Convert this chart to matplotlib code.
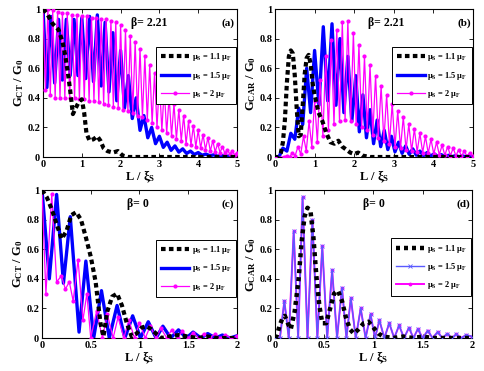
import numpy as np
import matplotlib
matplotlib.use("Agg")
import matplotlib.pyplot as plt

plt.rcParams.update({
    "font.family": "Liberation Serif",
    "font.weight": "bold",
    "axes.labelweight": "bold",
    "mathtext.fontset": "custom",
    "mathtext.rm": "Liberation Serif:bold",
    "mathtext.it": "Liberation Serif:italic:bold",
    "mathtext.bf": "Liberation Serif:bold",
    "xtick.direction": "in",
    "ytick.direction": "in",
    "xtick.top": True,
    "ytick.right": True,
    "xtick.labelsize": 7.5,
    "ytick.labelsize": 7.5,
})

# ---------------------------------------------------------------------------
# Data (L / xi_S, G / G_0)
# ---------------------------------------------------------------------------

# (a) G_CT, beta = 2.21
a_black_L = [0, 0.1, 0.25, 0.4, 0.5, 0.57, 0.64, 0.7, 0.77, 0.84, 0.92, 1.0, 1.06,
             1.12, 1.2, 1.3, 1.4, 1.48, 1.56, 1.66, 1.8, 1.93, 2.05, 2.2, 5.0]
a_black_G = [1.0, 0.97, 0.9, 0.86, 0.78, 0.69, 0.57, 0.45, 0.29, 0.33, 0.37, 0.39, 0.3,
             0.16, 0.11, 0.12, 0.14, 0.11, 0.06, 0.04, 0.03, 0.04, 0.01, 0.0, 0.0]

a_blue_peak_L = [0, 0.2, 0.4, 0.6, 0.8, 1.0, 1.2, 1.4, 1.6, 1.8, 2.0, 2.2, 2.4, 2.6,
                 2.8, 3.0, 3.2, 3.4, 3.6, 3.8, 4.0, 4.2, 4.4, 4.6, 4.8, 5.0]
a_blue_peak_G = [1.0, 0.95, 0.93, 0.93, 0.93, 0.94, 0.95, 0.96, 0.91, 0.84, 0.72, 0.55,
                 0.4, 0.28, 0.2, 0.14, 0.1, 0.075, 0.055, 0.04, 0.03, 0.02, 0.015,
                 0.01, 0.007, 0.005]
a_blue_trough_L = [0.1, 0.3, 0.5, 0.7, 0.9, 1.1, 1.3, 1.5, 1.7, 1.9, 2.1, 2.3, 2.5,
                   2.7, 2.9, 3.1, 3.3, 3.5, 3.7, 3.9, 4.1, 4.3, 4.5, 4.7, 4.9]
a_blue_trough_G = [0.47, 0.5, 0.52, 0.55, 0.55, 0.53, 0.51, 0.48, 0.44, 0.38, 0.33,
                   0.26, 0.18, 0.13, 0.09, 0.065, 0.045, 0.033, 0.024, 0.017, 0.012,
                   0.008, 0.005, 0.003, 0.002]

a_mag_peak_L = [0, 0.125, 0.25, 0.375, 0.5, 0.625, 0.75, 0.875, 1.0, 1.125, 1.25,
                1.375, 1.5, 1.625, 1.75, 1.875, 2.0, 2.125, 2.25, 2.375, 2.5, 2.625,
                2.75, 2.875, 3.0, 3.125, 3.25, 3.375, 3.5, 3.625, 3.75, 3.875, 4.0,
                4.125, 4.25, 4.375, 4.5, 4.625, 4.75, 4.875, 5.0]
a_mag_peak_G = [1.0, 1.0, 0.99, 0.98, 0.97, 0.97, 0.96, 0.96, 0.95, 0.95, 0.94, 0.94,
                0.93, 0.93, 0.92, 0.91, 0.89, 0.86, 0.82, 0.78, 0.73, 0.68, 0.62, 0.57,
                0.51, 0.46, 0.41, 0.36, 0.32, 0.28, 0.24, 0.21, 0.18, 0.15, 0.13, 0.11,
                0.09, 0.07, 0.05, 0.04, 0.03]
a_mag_trough_L = [0.0625, 0.1875, 0.3125, 0.4375, 0.5625, 0.6875, 0.8125, 0.9375,
                  1.0625, 1.1875, 1.3125, 1.4375, 1.5625, 1.6875, 1.8125, 1.9375,
                  2.0625, 2.1875, 2.3125, 2.4375, 2.5625, 2.6875, 2.8125, 2.9375,
                  3.0625, 3.1875, 3.3125, 3.4375, 3.5625, 3.6875, 3.8125, 3.9375,
                  4.0625, 4.1875, 4.3125, 4.4375, 4.5625, 4.6875, 4.8125, 4.9375]
a_mag_trough_G = [0.45, 0.42, 0.4, 0.4, 0.4, 0.4, 0.4, 0.39, 0.39, 0.38, 0.38, 0.37,
                  0.36, 0.35, 0.34, 0.33, 0.32, 0.31, 0.3, 0.28, 0.27, 0.25, 0.23, 0.2,
                  0.18, 0.16, 0.14, 0.12, 0.11, 0.09, 0.08, 0.07, 0.06, 0.05, 0.04,
                  0.035, 0.03, 0.025, 0.02, 0.015]

# (b) G_CAR, beta = 2.21
b_black_L = [0, 0.1, 0.15, 0.2, 0.25, 0.3, 0.35, 0.4, 0.45, 0.5, 0.55, 0.6, 0.65, 0.7,
             0.75, 0.8, 0.85, 0.9, 0.95, 1.0, 1.1, 1.2, 1.3, 1.4, 1.5, 1.6, 1.7, 1.8,
             1.9, 2.0, 2.1, 2.2, 2.4, 5.0]
b_black_G = [0, 0.0, 0.03, 0.1, 0.25, 0.5, 0.68, 0.72, 0.7, 0.55, 0.32, 0.14, 0.15,
             0.35, 0.56, 0.67, 0.69, 0.63, 0.5, 0.42, 0.3, 0.24, 0.16, 0.1, 0.09, 0.11,
             0.07, 0.05, 0.03, 0.02, 0.03, 0.01, 0.0, 0.0]

b_blue_peak_L = [0.2, 0.4, 0.6, 0.8, 1.0, 1.22, 1.44, 1.64, 1.84, 2.04, 2.22, 2.4,
                 2.58, 2.76, 2.94, 3.12, 3.3, 3.48, 3.66, 3.84, 4.02, 4.2, 4.38, 4.56,
                 4.74, 4.92]
b_blue_peak_G = [0.06, 0.16, 0.33, 0.6, 0.72, 0.88, 0.9, 0.8, 0.68, 0.55, 0.42, 0.32,
                 0.25, 0.18, 0.14, 0.1, 0.075, 0.055, 0.04, 0.03, 0.022, 0.016, 0.012,
                 0.009, 0.007, 0.005]
b_blue_trough_L = [0, 0.1, 0.3, 0.5, 0.7, 0.9, 1.11, 1.33, 1.54, 1.74, 1.94, 2.13,
                   2.31, 2.49, 2.67, 2.85, 3.03, 3.21, 3.39, 3.57, 3.75, 3.93, 4.11,
                   4.29, 4.47, 4.65, 4.83, 5.0]
b_blue_trough_G = [0.0, 0.0, 0.04, 0.12, 0.22, 0.3, 0.35, 0.38, 0.35, 0.3, 0.24, 0.17,
                   0.13, 0.09, 0.07, 0.05, 0.035, 0.025, 0.018, 0.012, 0.009, 0.006,
                   0.004, 0.003, 0.002, 0.002, 0.001, 0.001]

b_mag_peak_L = [0.3, 0.44, 0.58, 0.72, 0.86, 1.0, 1.14, 1.28, 1.42, 1.56, 1.7, 1.84,
                1.98, 2.12, 2.26, 2.4, 2.54, 2.68, 2.82, 2.96, 3.1, 3.24, 3.38, 3.52,
                3.66, 3.8, 3.94, 4.08, 4.22, 4.36, 4.5, 4.64, 4.78, 4.92]
b_mag_peak_G = [0.01, 0.03, 0.07, 0.14, 0.24, 0.38, 0.52, 0.68, 0.79, 0.86, 0.91,
                0.92, 0.84, 0.76, 0.68, 0.62, 0.55, 0.48, 0.42, 0.36, 0.31, 0.27, 0.22,
                0.19, 0.16, 0.14, 0.12, 0.1, 0.08, 0.07, 0.06, 0.05, 0.04, 0.03]
b_mag_trough_L = [0, 0.23, 0.37, 0.51, 0.65, 0.79, 0.93, 1.07, 1.21, 1.35, 1.49, 1.63,
                  1.77, 1.91, 2.05, 2.19, 2.33, 2.47, 2.61, 2.75, 2.89, 3.03, 3.17,
                  3.31, 3.45, 3.59, 3.73, 3.87, 4.01, 4.15, 4.29, 4.43, 4.57, 4.71,
                  4.85, 5.0]
b_mag_trough_G = [0.0, 0.0, 0.0, 0.01, 0.02, 0.04, 0.07, 0.1, 0.14, 0.18, 0.22, 0.24,
                  0.25, 0.24, 0.22, 0.2, 0.18, 0.15, 0.13, 0.11, 0.09, 0.07, 0.06,
                  0.05, 0.04, 0.035, 0.03, 0.025, 0.02, 0.015, 0.012, 0.01, 0.008,
                  0.006, 0.005, 0.004]

# (c) G_CT, beta = 0
c_black_L = [0, 0.05, 0.1, 0.15, 0.2, 0.25, 0.3, 0.35, 0.4, 0.45, 0.5, 0.55, 0.6,
             0.63, 0.67, 0.72, 0.77, 0.82, 0.87, 0.92, 0.97, 1.02, 1.07, 1.12, 1.17,
             1.22, 1.3, 1.4, 1.5, 1.6, 1.7, 1.8, 2.0]
c_black_G = [1.0, 0.95, 0.87, 0.77, 0.67, 0.72, 0.83, 0.85, 0.8, 0.68, 0.55, 0.38,
             0.1, 0.01, 0.18, 0.28, 0.3, 0.22, 0.1, 0.01, 0.03, 0.07, 0.08, 0.06, 0.03,
             0.0, 0.01, 0.02, 0.01, 0.0, 0.01, 0.0, 0.0]

c_blue_peak_L = [0, 0.15, 0.29, 0.45, 0.61, 0.77, 0.93, 1.09, 1.24, 1.4, 1.55, 1.7,
                 1.85, 2.0]
c_blue_peak_G = [1.0, 0.97, 0.82, 0.52, 0.32, 0.22, 0.15, 0.11, 0.08, 0.055, 0.04,
                 0.03, 0.02, 0.015]
c_blue_trough_L = [0.075, 0.22, 0.38, 0.53, 0.69, 0.85, 1.01, 1.17, 1.32, 1.48, 1.63,
                   1.78, 1.93]
c_blue_trough_G = [0.4, 0.37, 0.04, 0.0, 0.0, 0.0, 0.0, 0.0, 0.0, 0.0, 0.0, 0.0, 0.0]

c_mag_L = [0, 0.04, 0.1, 0.15, 0.2, 0.24, 0.28, 0.32, 0.37, 0.42, 0.46, 0.5, 0.56,
           0.62, 0.67, 0.73, 0.78, 0.84, 0.89, 0.95, 1.0, 1.06, 1.11, 1.17, 1.22,
           1.28, 1.33, 1.39, 1.44, 1.5, 1.55, 1.61, 1.66, 1.72, 1.77, 1.83, 1.88,
           1.94, 2.0]
c_mag_G = [1.0, 0.3, 0.97, 0.38, 0.42, 0.33, 0.38, 0.25, 0.53, 0.12, 0.3, 0.0, 0.18,
           0.0, 0.16, 0.0, 0.14, 0.0, 0.12, 0.0, 0.1, 0.0, 0.08, 0.0, 0.065, 0.0,
           0.055, 0.0, 0.045, 0.0, 0.035, 0.0, 0.03, 0.0, 0.025, 0.0, 0.02, 0.0, 0.015]

# (d) G_CAR, beta = 0  (mu_S = 1.5 and 2 mu_F curves practically coincide)
d_black_L = [0, 0.02, 0.05, 0.08, 0.1, 0.13, 0.16, 0.2, 0.24, 0.27, 0.3, 0.33, 0.36,
             0.39, 0.42, 0.45, 0.48, 0.52, 0.56, 0.6, 0.64, 0.68, 0.72, 0.76, 0.8,
             0.85, 0.9, 0.95, 1.0, 1.05, 1.1, 1.2, 1.3, 1.4, 1.5, 1.6, 2.0]
d_black_G = [0, 0.02, 0.09, 0.14, 0.15, 0.1, 0.06, 0.18, 0.4, 0.65, 0.82, 0.88, 0.86,
             0.68, 0.42, 0.22, 0.1, 0.1, 0.2, 0.3, 0.32, 0.25, 0.14, 0.06, 0.03, 0.06,
             0.1, 0.11, 0.07, 0.03, 0.01, 0.0, 0.01, 0.0, 0.01, 0.0, 0.0]

d_osc_peak_L = [0.095, 0.19, 0.28, 0.38, 0.48, 0.58, 0.68, 0.77, 0.87, 0.97, 1.06,
                1.16, 1.26, 1.36, 1.45, 1.55, 1.65, 1.75, 1.84, 1.94]
d_osc_peak_G = [0.25, 0.72, 0.95, 0.8, 0.62, 0.46, 0.34, 0.27, 0.2, 0.16, 0.12, 0.1,
                0.085, 0.07, 0.06, 0.05, 0.04, 0.03, 0.025, 0.02]
d_osc_trough_L = [0, 0.05, 0.14, 0.235, 0.33, 0.43, 0.53, 0.63, 0.725, 0.82, 0.92,
                  1.015, 1.11, 1.21, 1.31, 1.405, 1.5, 1.6, 1.7, 1.795, 1.89, 2.0]
d_osc_trough_G = [0.0, 0.0, 0.0, 0.0, 0.0, 0.0, 0.0, 0.0, 0.0, 0.0, 0.0, 0.0, 0.0,
                  0.0, 0.0, 0.0, 0.0, 0.0, 0.0, 0.0, 0.0, 0.01]

labels = [r"$\mathrm{\mu_S}$ = 1.1 $\mathrm{\mu_F}$",
          r"$\mathrm{\mu_S}$ = 1.5 $\mathrm{\mu_F}$",
          r"$\mathrm{\mu_S}$ = 2 $\mathrm{\mu_F}$"]


def merge(peak_L, peak_G, trough_L, trough_G):
    L = np.concatenate([peak_L, trough_L])
    G = np.concatenate([peak_G, trough_G])
    order = np.argsort(L, kind="stable")
    return L[order], G[order]


def style_axes(ax, xmax, ylabel, beta, tag, beta_x):
    ax.set_xlim(0, xmax)
    ax.set_ylim(0, 1)
    ax.set_yticks([0, 0.2, 0.4, 0.6, 0.8, 1])
    ax.set_yticklabels(["0", "0.2", "0.4", "0.6", "0.8", "1"])
    if xmax == 5:
        ax.set_xticks([0, 1, 2, 3, 4, 5])
    else:
        ax.set_xticks([0, 0.5, 1, 1.5, 2])
        ax.set_xticklabels(["0", "0.5", "1", "1.5", "2"])
    ax.tick_params(length=3, width=0.6, pad=2)
    for s in ax.spines.values():
        s.set_linewidth(0.8)
    ax.set_xlabel(r"$\mathrm{L\ /\ \xi_S}$", fontsize=9, labelpad=0)
    ax.set_ylabel(ylabel, fontsize=9, labelpad=1)
    ax.text(beta_x, 0.905, beta, transform=ax.transAxes, ha="center", va="center",
            fontsize=8.5, fontweight="bold")
    ax.text(0.955, 0.905, tag, transform=ax.transAxes, ha="center", va="center",
            fontsize=8, fontweight="bold")


def add_legend(ax, handles, top):
    leg = ax.legend(handles, labels, loc="upper right", bbox_to_anchor=(0.995, top),
                    borderaxespad=0, fontsize=6, handlelength=3.4, handletextpad=0.3,
                    borderpad=0.55, labelspacing=0.75, fancybox=False,
                    edgecolor="black", framealpha=1)
    leg.get_frame().set_linewidth(0.7)


fig = plt.figure(figsize=(4.85, 3.71), dpi=100)
ax_a = fig.add_axes([0.0887, 0.5768, 0.400, 0.3989])
ax_b = fig.add_axes([0.5670, 0.5768, 0.4082, 0.3989])
ax_c = fig.add_axes([0.0866, 0.0889, 0.4020, 0.3989])
ax_d = fig.add_axes([0.5670, 0.0889, 0.4062, 0.3989])

black_kw = dict(color="black", lw=3.0, dashes=(1.1, 0.8), zorder=4)
blue_kw = dict(color="#0000FF", lw=2.4, zorder=2)
mag_kw = dict(color="#FF00FF", lw=0.9, marker=".", ms=4, zorder=3)

# (a)
L, G = merge(a_blue_peak_L, a_blue_peak_G, a_blue_trough_L, a_blue_trough_G)
hb, = ax_a.plot(L, G, **blue_kw)
L, G = merge(a_mag_peak_L, a_mag_peak_G, a_mag_trough_L, a_mag_trough_G)
hm, = ax_a.plot(L, G, **mag_kw)
hk, = ax_a.plot(a_black_L, a_black_G, **black_kw)
style_axes(ax_a, 5, r"$\mathrm{G_{CT}\ /\ G_0}$", "β= 2.21", "(a)", 0.545)
add_legend(ax_a, [hk, hb, hm], 0.745)

# (b)
L, G = merge(b_blue_peak_L, b_blue_peak_G, b_blue_trough_L, b_blue_trough_G)
hb, = ax_b.plot(L, G, **blue_kw)
L, G = merge(b_mag_peak_L, b_mag_peak_G, b_mag_trough_L, b_mag_trough_G)
hm, = ax_b.plot(L, G, **mag_kw)
hk, = ax_b.plot(b_black_L, b_black_G, **black_kw)
style_axes(ax_b, 5, r"$\mathrm{G_{CAR}\ /\ G_0}$", "β= 2.21", "(b)", 0.56)
add_legend(ax_b, [hk, hb, hm], 0.745)

# (c)
L, G = merge(c_blue_peak_L, c_blue_peak_G, c_blue_trough_L, c_blue_trough_G)
hb, = ax_c.plot(L, G, **blue_kw)
hm, = ax_c.plot(c_mag_L, c_mag_G, **mag_kw)
hk, = ax_c.plot(c_black_L, c_black_G, **black_kw)
style_axes(ax_c, 2, r"$\mathrm{G_{CT}\ /\ G_0}$", "β= 0", "(c)", 0.49)
add_legend(ax_c, [hk, hb, hm], 0.665)

# (d)
L, G = merge(d_osc_peak_L, d_osc_peak_G, d_osc_trough_L, d_osc_trough_G)
hb, = ax_d.plot(L, G, color="#5A5AFF", lw=1.0, marker="x", ms=2.5, mew=0.6, zorder=3)
hm, = ax_d.plot(L, G, color="#FF00FF", lw=1.4, marker=".", ms=3.5, zorder=2)
hk, = ax_d.plot(d_black_L, d_black_G, color="black", lw=3.2, dashes=(0.9, 0.9),
                zorder=4)
style_axes(ax_d, 2, r"$\mathrm{G_{CAR}\ /\ G_0}$", "β= 0", "(d)", 0.5)
add_legend(ax_d, [hk, hb, hm], 0.675)

fig.savefig("out.png", dpi=100)
